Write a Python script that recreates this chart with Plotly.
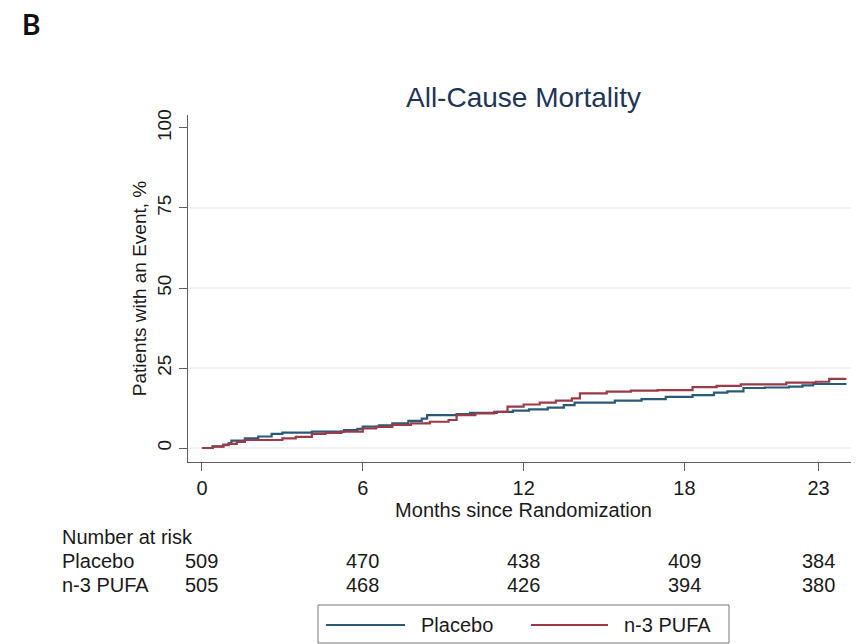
import plotly.graph_objects as go

# ---- data ----
placebo_t = [0, 0.4, 0.8, 1.0, 1.1, 1.6, 2.1, 2.6, 3.0, 4.1, 5.3, 5.8, 6.0, 6.6, 7.1, 7.7, 8.2, 8.4,
             9.5, 10.0, 11.0, 11.6, 12.2, 12.9, 13.5, 13.9, 15.4, 16.4, 17.3, 18.3, 19.1, 19.6, 20.2,
             21.0, 21.9, 22.4, 22.8, 24.0]
placebo_v = [0, 0.5, 1.1, 1.5, 2.3, 3.0, 3.6, 4.4, 4.8, 5.1, 5.6, 6.0, 6.7, 7.1, 7.7, 8.5, 9.2, 10.3,
             10.6, 11.0, 11.3, 11.7, 12.1, 12.6, 13.4, 14.2, 14.8, 15.3, 16.0, 16.5, 17.3, 17.7, 18.75,
             18.9, 19.2, 19.6, 20.0, 20.3]
pufa_t = [0, 0.4, 0.8, 1.0, 1.3, 1.6, 3.0, 3.5, 4.1, 4.6, 5.2, 6.0, 6.5, 7.1, 7.8, 8.5, 9.2, 9.5,
          10.2, 10.9, 11.4, 12.0, 12.6, 13.2, 13.8, 14.1, 15.1, 16.0, 17.0, 18.3, 19.2, 20.1, 21.8,
          22.9, 23.4, 24.0]
pufa_v = [0, 0.4, 0.9, 1.3, 1.9, 2.5, 3.0, 3.5, 4.4, 4.7, 5.1, 6.1, 6.6, 7.2, 7.7, 8.2, 8.75, 10.3,
          10.8, 11.3, 12.9, 13.6, 14.2, 14.8, 15.5, 17.1, 17.6, 17.9, 18.1, 19.0, 19.4, 19.9, 20.4,
          20.7, 21.6, 21.9]

x_ticks = [0, 6, 12, 18, 23]
y_ticks = [0, 25, 50, 75, 100]
grid_vals = [0, 25, 50, 75]
risk_placebo = [509, 470, 438, 409, 384]
risk_pufa = [505, 468, 426, 394, 380]
groups = ["Placebo", "n-3 PUFA"]

# ---- style ----
BLUE = "#2b5a78"
RED = "#9b3a48"
AXIS = "#5f5f5f"
TXT = "#1a1a1a"
FONT = "Liberation Sans, Arial, sans-serif"

OFF = 8  # page body margin
W, H = 859 - OFF, 644 - OFF
# plot area in page pixels: x 188..859, y 115..462
L = 188 - OFF
T = 115 - OFF
R = 0
B = H - (462 - OFF)
PW, PH = W - L - R, H - T - B


def px_x(p):
    return (p - OFF - L) / PW


def px_y(p):
    return (H - B - (p - OFF)) / PH


fig = go.Figure()
fig.add_trace(go.Scatter(x=placebo_t, y=placebo_v, mode="lines", line=dict(color=BLUE, width=2.2, shape="hv"),
                         name=groups[0], showlegend=False))
fig.add_trace(go.Scatter(x=pufa_t, y=pufa_v, mode="lines", line=dict(color=RED, width=2.2, shape="hv"),
                         name=groups[1], showlegend=False))

shapes = []
for g in grid_vals:
    shapes.append(dict(type="line", xref="paper", yref="y", x0=0.003, x1=0.995, y0=g, y1=g,
                       line=dict(color="#ebebeb", width=1.5), layer="below"))

annotations = []
annotations.append(dict(text="All-Cause Mortality", xref="paper", yref="paper", x=0.5, y=px_y(97),
                        showarrow=False, font=dict(size=28, color="#1f3558", family=FONT),
                        xanchor="center", yanchor="middle"))
annotations.append(dict(text="<b>B</b>", xref="paper", yref="paper", x=px_x(20), y=px_y(24),
                        showarrow=False, font=dict(size=28, color="#111111", family="Lato, sans-serif"),
                        xanchor="left", yanchor="middle"))
annotations.append(dict(text="Number at risk", xref="paper", yref="paper", x=px_x(60), y=px_y(537),
                        showarrow=False, font=dict(size=20, color=TXT, family=FONT),
                        xanchor="left", yanchor="middle"))
for gname, row, ypx in [(groups[0], risk_placebo, 561), (groups[1], risk_pufa, 585)]:
    annotations.append(dict(text=gname, xref="paper", yref="paper", x=px_x(60), y=px_y(ypx),
                            showarrow=False, font=dict(size=20, color=TXT, family=FONT),
                            xanchor="left", yanchor="middle"))
    for xv, n in zip(x_ticks, row):
        annotations.append(dict(text=str(n), xref="x", yref="paper", x=xv, y=px_y(ypx),
                                showarrow=False, font=dict(size=20, color=TXT, family=FONT),
                                xanchor="center", yanchor="middle"))

# manual legend
shapes.append(dict(type="rect", xref="paper", yref="paper", x0=px_x(318), x1=px_x(729),
                   y0=px_y(605), y1=px_y(643), line=dict(color="#777777", width=1), fillcolor="white"))
shapes.append(dict(type="line", xref="paper", yref="paper", x0=px_x(326), x1=px_x(405),
                   y0=px_y(625), y1=px_y(625), line=dict(color=BLUE, width=2)))
shapes.append(dict(type="line", xref="paper", yref="paper", x0=px_x(531), x1=px_x(608),
                   y0=px_y(625), y1=px_y(625), line=dict(color=RED, width=2)))
annotations.append(dict(text=groups[0], xref="paper", yref="paper", x=px_x(419), y=px_y(625),
                        showarrow=False, font=dict(size=20, color=TXT, family=FONT),
                        xanchor="left", yanchor="middle"))
annotations.append(dict(text=groups[1], xref="paper", yref="paper", x=px_x(622), y=px_y(625),
                        showarrow=False, font=dict(size=20, color=TXT, family=FONT),
                        xanchor="left", yanchor="middle"))

fig.update_layout(
    width=W, height=H,
    margin=dict(l=L, r=R, t=T, b=B, pad=0),
    paper_bgcolor="white", plot_bgcolor="white",
    font=dict(family=FONT, color=TXT),
    showlegend=False,
    shapes=shapes, annotations=annotations,
    xaxis=dict(range=[-0.52, 24.51], tickvals=x_ticks, ticktext=[str(v) for v in x_ticks],
               showgrid=False, zeroline=False, showline=True, linecolor=AXIS, linewidth=1.3,
               ticks="outside", ticklen=8, tickcolor=AXIS, tickwidth=1.3,
               tickfont=dict(size=20, color=TXT),
               title=dict(text="Months since Randomization", font=dict(size=20, color=TXT), standoff=1)),
    yaxis=dict(range=[-4.375, 104.06], tickvals=y_ticks, ticktext=[str(v) for v in y_ticks],
               showgrid=False, zeroline=False, showline=True, linecolor=AXIS, linewidth=1.3,
               ticks="outside", ticklen=8, tickcolor=AXIS, tickwidth=1.3, tickangle=-90,
               tickfont=dict(size=19, color=TXT),
               title=dict(text="Patients with an Event, %", font=dict(size=19, color=TXT), standoff=2)),
)

fig.write_html("out.html")
